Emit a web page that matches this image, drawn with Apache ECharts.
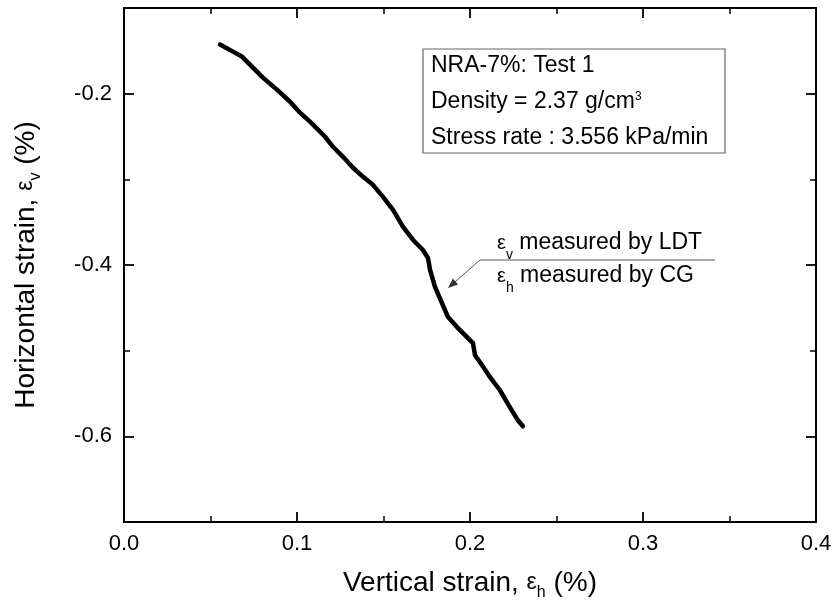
<!DOCTYPE html>
<html>
<head>
<meta charset="utf-8">
<script src="https://cdn.jsdelivr.net/npm/echarts@6/dist/echarts.min.js"></script>
<style>
html,body{margin:0;padding:0;background:#fff;}
#main{width:835px;height:608px;}
</style>
</head>
<body>
<div id="main"></div>
<script>
// Data (x: vertical strain εh %, y: horizontal strain εv %)
var strainH = [0.0555,0.0630,0.0682,0.0728,0.0803,0.0884,0.0960,0.1017,0.1075,0.1133,0.1162,0.1208,0.1266,0.1324,0.1382,0.1439,0.1497,0.1555,0.1613,0.1671,0.1728,0.1757,0.1769,0.1798,0.1838,0.1873,0.1925,0.1971,0.2017,0.2029,0.2058,0.2116,0.2173,0.2231,0.2277,0.2306];
var strainV = [-0.1427,-0.1509,-0.1567,-0.1661,-0.1813,-0.1953,-0.2094,-0.2222,-0.2327,-0.2444,-0.2503,-0.2620,-0.2737,-0.2865,-0.2971,-0.3064,-0.3205,-0.3357,-0.3556,-0.3708,-0.3825,-0.3918,-0.4058,-0.4257,-0.4444,-0.4608,-0.4725,-0.4819,-0.4912,-0.5053,-0.5135,-0.5310,-0.5462,-0.5661,-0.5813,-0.5883];
var yMajorTicks = [-0.6,-0.4,-0.2];
var yMinorTicks = [-0.5,-0.3];
var xRange = [0, 0.4];
var yRange = [-0.7, -0.1];

var FONT = '"Liberation Sans", Arial, sans-serif';
var chart = echarts.init(document.getElementById('main'));
var data = strainH.map(function(x, i){ return [x, strainV[i]]; });

var lineBlack = {color:'#000', width:2};
var titleRich = {
  g:{fontFamily:FONT, fontSize:23, color:'#000', lineHeight:36},
  s:{fontFamily:FONT, fontSize:16, color:'#000', lineHeight:16, verticalAlign:'bottom'}
};
var noteRich = {
  g:{fontSize:20, fontFamily:FONT, fill:'#000', lineHeight:38},
  s:{fontSize:14, fontFamily:FONT, fill:'#000', verticalAlign:'bottom', lineHeight:14}
};
function xAx(pos, withLabel){
  var a = {
    type:'value', position:pos, min:xRange[0], max:xRange[1], interval:0.1,
    axisLine:{show:true, onZero:false, lineStyle:lineBlack},
    axisTick:{show:true, inside:true, length:10, lineStyle:{color:'#000', width:1.8}},
    minorTick:{show:true, splitNumber:2, length:6, lineStyle:{color:'#000', width:1.5}},
    splitLine:{show:false}, minorSplitLine:{show:false},
    axisLabel:{show:withLabel, color:'#000', fontFamily:FONT, fontSize:22, margin:11,
      formatter:function(v){ return v.toFixed(1); }}
  };
  if (withLabel) {
    a.name = 'Vertical strain, {g|ε}{s|h} (%)';
    a.nameLocation = 'middle';
    a.nameGap = 43;
    a.nameTextStyle = {color:'#000', fontFamily:FONT, fontSize:28, lineHeight:36, rich:titleRich};
  }
  return a;
}
function yAx(pos, ticks, len, withLabel){
  var a = {
    type:'value', position:pos, min:yRange[0], max:yRange[1],
    axisLine:{show:true, onZero:false, lineStyle:lineBlack},
    axisTick:{show:true, inside:true, length:len, customValues:ticks, lineStyle:{color:'#000', width:len>8?1.8:1.5}},
    splitLine:{show:false},
    axisLabel:{show:withLabel, customValues:ticks, color:'#000', fontFamily:FONT, fontSize:22, margin:12,
      formatter:function(v){ return v.toFixed(1); }}
  };
  if (withLabel) {
    a.name = 'Horizontal strain, {g|ε}{s|v} (%)';
    a.nameLocation = 'middle';
    a.nameGap = 80;
    a.nameRotate = 90;
    a.nameTextStyle = {color:'#000', fontFamily:FONT, fontSize:28, lineHeight:36, rich:titleRich};
  }
  return a;
}

var option = {
  backgroundColor:'#fff',
  animation:false,
  grid:{left:124, top:8, width:692, height:514, containLabel:false},
  xAxis:[ xAx('bottom', true), xAx('top', false) ],
  yAxis:[
    yAx('left', yMajorTicks, 10, true),
    yAx('left', yMinorTicks, 6, false),
    yAx('right', yMajorTicks, 10, false),
    yAx('right', yMinorTicks, 6, false)
  ],
  series:[{
    type:'line', xAxisIndex:0, yAxisIndex:0, data:data,
    showSymbol:false, symbol:'none', smooth:false,
    lineStyle:{color:'#000', width:4.5, join:'round', cap:'round'}
  }],
  graphic:[
    {type:'rect', z:10, shape:{x:423, y:49, width:302, height:104},
     style:{fill:'#fff', stroke:'#666', lineWidth:1.2}},
    {type:'text', z:11, x:431, y:66, style:{text:'NRA-7%: Test 1', fill:'#000', font:'23px ' + FONT, verticalAlign:'middle'}},
    {type:'text', z:11, x:431, y:102, style:{text:'Density = 2.37 g/cm{sup|3}', fill:'#000', font:'23px ' + FONT, verticalAlign:'middle',
      rich:{sup:{fontSize:12, fontFamily:FONT, fill:'#000', verticalAlign:'top', lineHeight:12}}}},
    {type:'text', z:11, x:431, y:138, style:{text:'Stress rate : 3.556 kPa/min', fill:'#000', font:'23px ' + FONT, verticalAlign:'middle'}},
    {type:'line', z:11, shape:{x1:480, y1:260, x2:715, y2:260}, style:{stroke:'#555', lineWidth:1}},
    {type:'line', z:11, shape:{x1:480, y1:260, x2:452, y2:284.5}, style:{stroke:'#555', lineWidth:1}},
    {type:'polygon', z:11, shape:{points:[[448,288],[458.1,284.4],[452.9,278.4]]}, style:{fill:'#333'}},
    {type:'text', z:11, x:497, y:243, style:{text:'{g|ε}{s|v} measured by LDT', fill:'#000', font:'23px ' + FONT, lineHeight:38, verticalAlign:'middle', rich:noteRich}},
    {type:'text', z:11, x:497, y:276, style:{text:'{g|ε}{s|h} measured by CG', fill:'#000', font:'23px ' + FONT, lineHeight:38, verticalAlign:'middle', rich:noteRich}}
  ]
};
chart.setOption(option);
</script>
</body>
</html>
